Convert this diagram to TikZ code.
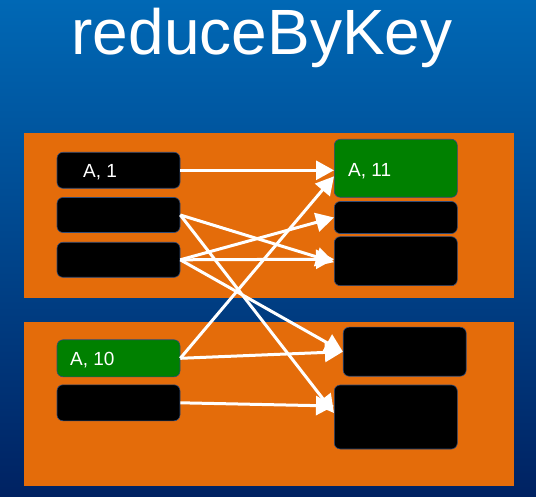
\documentclass[tikz,border=0pt]{standalone}
\usepackage{fontspec}
\setmainfont{Liberation Sans}
\usetikzlibrary{positioning,arrows.meta,calc}
\definecolor{slidetop}{HTML}{0068B5}
\definecolor{slidebot}{HTML}{002262}
\definecolor{partorange}{HTML}{E46C0A}
\definecolor{keygreen}{HTML}{008000}
\definecolor{boxedge}{HTML}{2E4B78}

\begin{document}
\begin{tikzpicture}[
  x=1pt, y=-1pt,
  % an orange partition
  part/.style={fill=partorange},
  % a record; size is given per node
  rec/.style={draw=boxedge, line width=0.6pt, fill=black,
              rounded corners=6pt, inner sep=0},
  keyrec/.style={rec, fill=keygreen},
  lbl/.style={anchor=base west, text=white, inner sep=0,
              font=\fontsize{19}{22}\selectfont},
  % the shuffle arrows
  flow/.style={draw=white, line width=3pt,
               -{Triangle[length=18pt, width=19pt]}}
]
\useasboundingbox (0,0) rectangle (536,497);

% ══ slide background and title ════════════════════════════════════════════
\shade[top color=slidetop, bottom color=slidebot] (0,0) rectangle (536,497);
\node[anchor=base, text=white, inner sep=0,
      font=\fontsize{64}{70}\selectfont] (title) at (262,55) {reduceByKey};

% ══ partitions ════════════════════════════════════════════════════════════
\fill[part] (24,133) rectangle (514,298);
\fill[part] (24,322) rectangle (514,486);

% ══ input records (left) ══════════════════════════════════════════════════
\node[rec, minimum width=123, minimum height=36] (in1) at (118.5,170.3) {};
\node[rec, minimum width=123, minimum height=35] (in2) at (118.5,215) {};
\node[rec, minimum width=123, minimum height=35] (in3) at (118.5,259.8) {};
\node[keyrec, minimum width=123, minimum height=37] (in4) at (118.5,358.3) {};
\node[rec, minimum width=123, minimum height=36] (in5) at (118.5,402.8) {};

% ══ reduced records (right) ═══════════════════════════════════════════════
\node[keyrec, minimum width=123, minimum height=58] (out1) at (395.8,168.3) {};
\node[rec, minimum width=123, minimum height=32] (out2) at (395.8,217.5) {};
\node[rec, minimum width=123, minimum height=49] (out3) at (395.8,261.2) {};
\node[rec, minimum width=123, minimum height=49] (out4) at (404.7,351.7) {};
\node[rec, minimum width=123, minimum height=64] (out5) at (395.8,417) {};

% ══ labels ════════════════════════════════════════════════════════════════
\node[lbl] (l1) at (83,177.3) {A, 1};
\node[lbl] (l4) at (70,365.7) {A, 10};
\node[lbl] (l6) at (348,176.7) {A, 11};

% ══ shuffle ═══════════════════════════════════════════════════════════════
\draw[flow] (in1.east) -- ([yshift=-2pt]out1.west);
\draw[flow] (in4.east) -- ([yshift=-8pt]out1.west);
\draw[flow] (in3.east) -- (out2.west);
\draw[flow] (in2.east) -- ([yshift=-1pt]out3.west);
\draw[flow] (in3.east) -- ([yshift=2pt]out3.west);
\draw[flow] (in3.east) -- (out4.west);
\draw[flow] (in4.east) -- (out4.west);
\draw[flow] (in2.east) -- ([yshift=4pt]out5.west);
\draw[flow] (in5.east) -- ([yshift=11pt]out5.west);

\end{tikzpicture}
\end{document}
